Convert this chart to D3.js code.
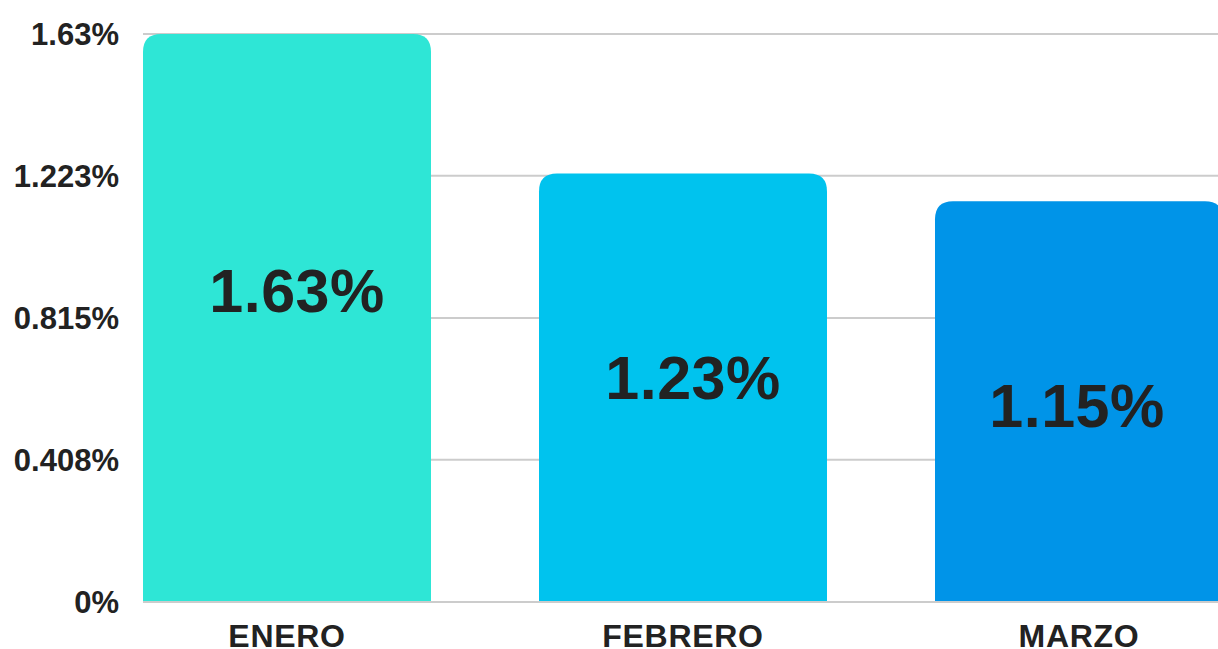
<!DOCTYPE html>
<html>
<head>
<meta charset="utf-8">
<script src="https://cdn.jsdelivr.net/npm/d3@7"></script>
<style>
  html, body { margin: 0; padding: 0; background: #fff; }
  svg { display: block; }
  text { font-family: "Liberation Sans", Arial, sans-serif; font-weight: bold; fill: #222; }
</style>
</head>
<body>
<svg id="chart" width="1218" height="649"></svg>
<script>
const categories = ["ENERO", "FEBRERO", "MARZO"];
const values = [1.63, 1.23, 1.15];
const valueLabels = ["1.63%", "1.23%", "1.15%"];
const tickValues = [0, 0.408, 0.815, 1.223, 1.63];
const tickLabels = ["0%", "0.408%", "0.815%", "1.223%", "1.63%"];
const colors = ["#2EE6D6", "#00C3EE", "#0094E8"];

const svg = d3.select("#chart");
const x0 = 143, x1 = 1223, yTop = 34, yBottom = 602, W = 1218;

const x = d3.scaleBand().domain(categories).range([x0, x1]).paddingInner(108 / 396).paddingOuter(0);
const y = d3.scaleLinear().domain([0, 1.63]).range([yBottom, yTop]);

// grid lines
svg.append("g").selectAll("line").data(tickValues.slice(1)).join("line")
  .attr("x1", x0).attr("x2", W)
  .attr("y1", d => y(d)).attr("y2", d => y(d))
  .attr("stroke", "#cccccc").attr("stroke-width", 2);

// bars with rounded top corners
const r = 18;
function barPath(cx, w, top, bottom) {
  return `M${cx},${bottom} V${top + r} Q${cx},${top} ${cx + r},${top} H${cx + w - r} Q${cx + w},${top} ${cx + w},${top + r} V${bottom} Z`;
}
svg.append("g").selectAll("path").data(categories).join("path")
  .attr("d", (c, i) => barPath(x(c), x.bandwidth(), y(values[i]), yBottom))
  .attr("fill", (c, i) => colors[i]);

// baseline
svg.append("line").attr("x1", x0).attr("x2", W)
  .attr("y1", y(0)).attr("y2", y(0))
  .attr("stroke", "#cccccc").attr("stroke-width", 2);

// value labels
svg.append("g").selectAll("text").data(categories).join("text")
  .attr("x", c => Math.min(x(c) + x.bandwidth() / 2 + 10, W - 141))
  .attr("y", (c, i) => {
    const top = y(values[i]);
    const mid = (top + yBottom) / 2;
    return Math.max(mid - 28, top + 204);
  })
  .attr("dy", "0.36em")
  .attr("text-anchor", "middle")
  .style("font-size", "61px")
  .style("letter-spacing", "0.5px")
  .text((c, i) => valueLabels[i]);

// y tick labels
svg.append("g").selectAll("text").data(tickValues).join("text")
  .attr("x", 119)
  .attr("y", d => y(d))
  .attr("dy", "0.36em")
  .attr("text-anchor", "end")
  .style("font-size", "31px")
  .text((d, i) => tickLabels[i]);

// category labels
svg.append("g").selectAll("text").data(categories).join("text")
  .attr("x", c => x(c) + x.bandwidth() / 2)
  .attr("y", 647)
  .attr("text-anchor", "middle")
  .style("font-size", "32px")
  .style("letter-spacing", "0.7px")
  .text(c => c);
</script>
</body>
</html>
